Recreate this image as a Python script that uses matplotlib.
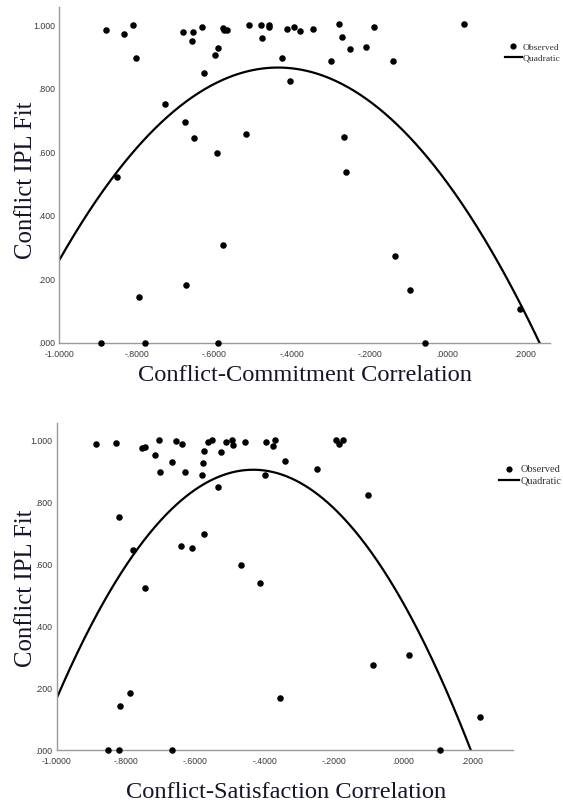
import numpy as np
import matplotlib
matplotlib.use("Agg")
import matplotlib.pyplot as plt
from matplotlib.lines import Line2D

# ---------------- data ----------------
commit_x = [-0.879, -0.833, -0.811, -0.803, -0.851, -0.893, -0.795, -0.778, -0.728, -0.681,
            -0.675, -0.673, -0.659, -0.654, -0.652, -0.631, -0.627, -0.598, -0.591, -0.593,
            -0.590, -0.579, -0.575, -0.568, -0.579, -0.518, -0.510, -0.480, -0.478, -0.460,
            -0.459, -0.426, -0.414, -0.406, -0.395, -0.379, -0.346, -0.299, -0.280, -0.271,
            -0.267, -0.262, -0.251, -0.208, -0.189, -0.140, -0.135, -0.096, -0.058, 0.044,
            0.189]
commit_y = [0.986, 0.973, 1.000, 0.897, 0.523, 0.000, 0.143, 0.000, 0.751, 0.977,
            0.696, 0.183, 0.951, 0.978, 0.644, 0.994, 0.848, 0.906, 0.927, 0.596,
            0.000, 0.991, 0.984, 0.985, 0.307, 0.658, 1.000, 1.000, 0.960, 1.000,
            0.994, 0.895, 0.987, 0.823, 0.994, 0.982, 0.987, 0.887, 1.002, 0.963,
            0.649, 0.537, 0.926, 0.930, 0.994, 0.887, 0.272, 0.166, 0.000, 1.002,
            0.107]

satis_x = [-0.888, -0.830, -0.753, -0.746, -0.717, -0.705, -0.701, -0.668, -0.657, -0.637,
           -0.629, -0.582, -0.578, -0.574, -0.563, -0.553, -0.535, -0.525, -0.512, -0.494,
           -0.492, -0.457, -0.397, -0.398, -0.377, -0.371, -0.340, -0.249, -0.195, -0.185,
           -0.175, -0.102, -0.819, -0.781, -0.745, -0.641, -0.609, -0.574, -0.469, -0.414,
           -0.787, -0.818, -0.853, -0.819, -0.668, -0.356, -0.087, 0.017, 0.106, 0.222]
satis_y = [0.989, 0.990, 0.975, 0.978, 0.953, 1.000, 0.898, 0.929, 0.997, 0.989,
           0.898, 0.888, 0.928, 0.966, 0.995, 1.000, 0.849, 0.962, 0.996, 1.002,
           0.986, 0.994, 0.995, 0.887, 0.983, 1.000, 0.932, 0.909, 1.002, 0.988,
           1.002, 0.825, 0.753, 0.646, 0.523, 0.659, 0.651, 0.698, 0.597, 0.539,
           0.184, 0.142, 0.000, 0.000, 0.000, 0.167, 0.273, 0.308, 0.000, 0.108]

# quadratic fit coefficients (a0, a1, a2)
quad_commit = [0.504, -1.662, -1.906]
quad_satis = [0.475, -1.987, -2.295]

x_ticks = [-1.0, -0.8, -0.6, -0.4, -0.2, 0.0, 0.2]
x_ticklabels = ["-1.0000", "-.8000", "-.6000", "-.4000", "-.2000", ".0000", ".2000"]
y_ticks = [0.0, 0.2, 0.4, 0.6, 0.8, 1.0]
y_ticklabels = [".000", ".200", ".400", ".600", ".800", "1.000"]

xlabels = ["Conflict-Commitment Correlation", "Conflict-Satisfaction Correlation"]
ylabel = "Conflict IPL Fit"
legend_labels = ["Observed", "Quadratic"]

# ---------------- figure ----------------
W, H = 563, 801
fig = plt.figure(figsize=(W / 100, H / 100), dpi=100)

def px_rect(left, right, top, bottom):
    return [left / W, 1 - bottom / H, (right - left) / W, (bottom - top) / H]

panels = [
    dict(rect=px_rect(59.3, 549.7, 7.3, 342.7), xmax=0.2645, x=commit_x, y=commit_y,
         quad=quad_commit, xlabel=xlabels[0], xl_center=304.5, xl_base=381,
         yl_center=180, leg=(505, 43.0), hl=1.75, lfs=6.8),
    dict(rect=px_rect(56.7, 513.0, 423.0, 750.0), xmax=0.317, x=satis_x, y=satis_y,
         quad=quad_satis, xlabel=xlabels[1], xl_center=286.5, xl_base=797.5,
         yl_center=588, leg=(499, 465.0), hl=1.9, lfs=7.5),
]

label_color = "#15152a"
tick_color = "#3a3a3a"
spine_color = "#9a9a9a"

for p in panels:
    ax = fig.add_axes(p["rect"])
    ax.set_xlim(-1.0, p["xmax"])
    ax.set_ylim(0.0, 1.056)
    for s in ["top", "right"]:
        ax.spines[s].set_visible(False)
    for s in ["left", "bottom"]:
        ax.spines[s].set_color(spine_color)
        ax.spines[s].set_linewidth(1.0)

    ax.scatter(p["x"], p["y"], s=22, color="black", zorder=3, clip_on=False,
               linewidths=0)
    xs = np.linspace(-1.0, p["xmax"], 400)
    a0, a1, a2 = p["quad"]
    ax.plot(xs, a0 + a1 * xs + a2 * xs ** 2, color="black", lw=1.6, zorder=2,
            solid_capstyle="butt")

    ax.set_xticks(x_ticks)
    ax.set_xticklabels(x_ticklabels)
    ax.set_yticks(y_ticks)
    ax.set_yticklabels(y_ticklabels)
    ax.tick_params(axis="both", length=0, labelsize=6.3, colors=tick_color)
    ax.tick_params(axis="x", pad=5.0)
    ax.tick_params(axis="y", pad=3.0)
    for lab in ax.get_xticklabels() + ax.get_yticklabels():
        lab.set_family("Liberation Sans")

    fig.text(p["xl_center"] / W, 1 - p["xl_base"] / H, p["xlabel"],
             ha="center", va="baseline", fontsize=17.6, family="Liberation Serif",
             color=label_color)
    fig.text(26 / W, 1 - p["yl_center"] / H, ylabel, rotation=90,
             ha="center", va="center", fontsize=17.8, family="Liberation Serif",
             color=label_color)

    handles = [Line2D([], [], marker="o", ls="none", color="black", markersize=4.5,
                      markeredgewidth=0),
               Line2D([], [], color="black", lw=1.6)]
    lx, ly = p["leg"]
    fig.legend(handles, legend_labels, loc="upper left",
               bbox_to_anchor=(lx / W, 1 - ly / H), frameon=False,
               prop={"family": "Liberation Serif", "size": p["lfs"]},
               handlelength=p["hl"], handletextpad=0.15, labelspacing=0.2,
               borderpad=0, borderaxespad=0, labelcolor="#333333")

fig.savefig("out.png", dpi=100)
